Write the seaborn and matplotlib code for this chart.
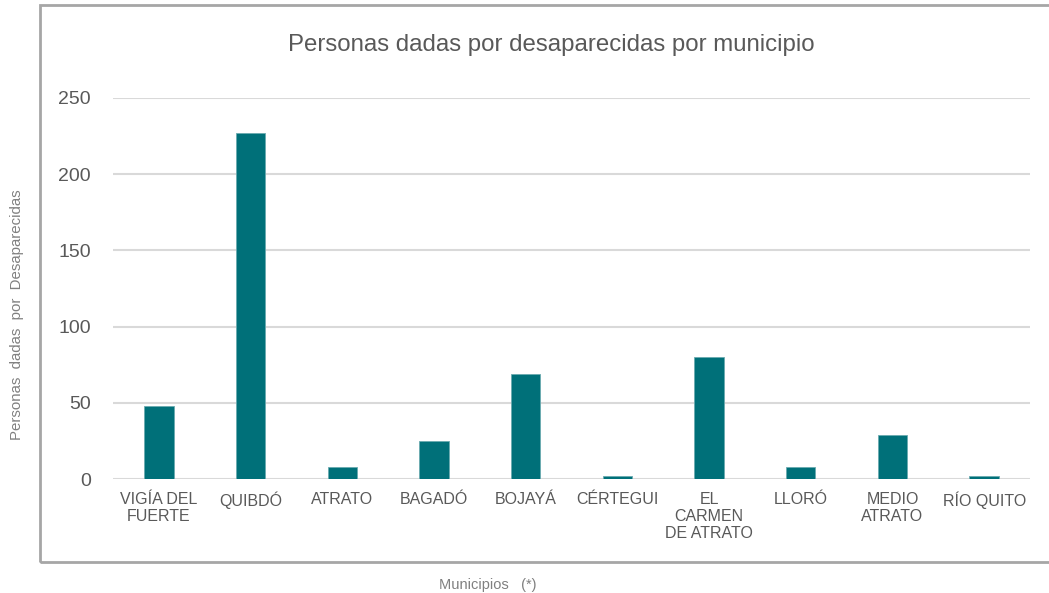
import matplotlib
matplotlib.use("Agg")
import matplotlib.pyplot as plt
import seaborn as sns
import pandas as pd
from matplotlib.patches import Rectangle

# data
municipios = ["VIGÍA DEL\nFUERTE", "QUIBDÓ", "ATRATO", "BAGADÓ", "BOJAYÁ",
              "CÉRTEGUI", "EL\nCARMEN\nDE ATRATO", "LLORÓ", "MEDIO\nATRATO", "RÍO QUITO"]
desaparecidas = [48, 227, 8, 25, 69, 2, 80, 8, 29, 2]
y_ticks = [0, 50, 100, 150, 200, 250]

df = pd.DataFrame({"municipio": municipios, "personas": desaparecidas})

sns.set_style("white")
plt.rcParams["font.family"] = ["Liberation Sans", "DejaVu Sans"]

fig = plt.figure(figsize=(10.49, 5.93), dpi=100)
ax = fig.add_axes([113/1049, 1-479/593, (1030-113)/1049, (479-98)/593])

sns.barplot(data=df, x="municipio", y="personas", color="#007079",
            width=0.32, saturation=1, edgecolor="#6AAAB0", linewidth=0.6, ax=ax)

ax.set_ylim(0, 250)
ax.set_yticks(y_ticks)
ax.set_xlim(-0.5, len(municipios)-0.5)
ax.yaxis.grid(True, color="#D9D9D9", linewidth=1.5)
ax.set_axisbelow(True)
for s in ax.spines.values():
    s.set_visible(False)
ax.tick_params(axis="y", length=0, pad=16, labelsize=14, labelcolor="#595959")
ax.tick_params(axis="x", length=0, pad=9, labelsize=11.5, labelcolor="#595959")
for lbl in ax.get_xticklabels():
    lbl.set_linespacing(1.18)
ax.set_xlabel("")
ax.set_ylabel("")

# outer chart border
fig.patches.append(Rectangle((40/1049, 1-562/593), 1.2, (562-5)/593,
                             transform=fig.transFigure, fill=False,
                             edgecolor="#A6A6A6", linewidth=2))

fig.text(551/1049, 1-45/593, "Personas dadas por desaparecidas por municipio",
         ha="center", va="center", fontsize=17.3, color="#595959")
fig.text(17/1049, 1-315/593, "Personas  dadas  por  Desaparecidas",
         ha="center", va="center", rotation=90, fontsize=10.8, color="#808080")
fig.text(488/1049, 1-585/593, "Municipios   (*)",
         ha="center", va="center", fontsize=10.5, color="#808080")

fig.savefig("out.png", dpi=100)
